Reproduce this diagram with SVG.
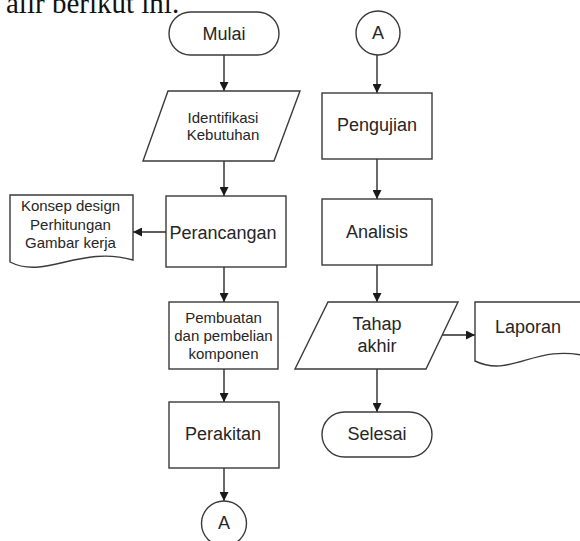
<svg xmlns="http://www.w3.org/2000/svg" width="580" height="541" viewBox="0 0 580 541">
<defs>
<marker id="arr" viewBox="0 0 10 10" refX="10" refY="5" markerWidth="9" markerHeight="9" markerUnits="userSpaceOnUse" orient="auto">
<path d="M0,0 L10,5 L0,10 Z" fill="#1a1a1a"/>
</marker>
<style>
.s{fill:#ffffff;stroke:#3a3a3a;stroke-width:1.4}
.t{font-family:"Liberation Sans",Arial,sans-serif;fill:#262626;text-anchor:middle}
.b{font-size:18px}
.m{font-size:15px}
.c{stroke:#2a2a2a;stroke-width:1.4;fill:none;marker-end:url(#arr)}
</style>
</defs>
<rect width="580" height="541" fill="#ffffff"/>
<text x="6" y="13" style="font-family:'Liberation Serif','Times New Roman',serif;font-size:29px;fill:#111">alir berikut ini.</text>
<g id="connectors">
<line class="c" x1="224" y1="55" x2="224" y2="91"/>
<line class="c" x1="224" y1="161" x2="224" y2="196"/>
<line class="c" x1="166" y1="232" x2="133" y2="232"/>
<line class="c" x1="224" y1="267" x2="224" y2="302"/>
<line class="c" x1="224" y1="369" x2="224" y2="402"/>
<line class="c" x1="224" y1="468" x2="224" y2="501"/>
<line class="c" x1="377" y1="55" x2="377" y2="93"/>
<line class="c" x1="377" y1="159" x2="377" y2="199"/>
<line class="c" x1="377" y1="265" x2="377" y2="302"/>
<line class="c" x1="442" y1="335" x2="475" y2="335"/>
<line class="c" x1="377" y1="369" x2="377" y2="412"/>
</g>
<g id="mulai">
<rect class="s" x="169" y="12" width="110" height="43" rx="21.5"/>
<text class="t b" x="224" y="40">Mulai</text>
</g>
<g id="identifikasi">
<polygon class="s" points="168,91 300,91 274,161 143,161"/>
<text class="t m" x="223" y="123">Identifikasi</text>
<text class="t m" x="223" y="140">Kebutuhan</text>
</g>
<g id="perancangan">
<rect class="s" x="166" y="196" width="120" height="71"/>
<text class="t b" x="223" y="238.5">Perancangan</text>
</g>
<g id="konsep">
<path class="s" d="M10,195 H133 V260 C80,245 45,280 10,262 Z"/>
<text class="t m" x="70.5" y="211">Konsep design</text>
<text class="t m" x="70.5" y="229.5">Perhitungan</text>
<text class="t m" x="70.5" y="248">Gambar kerja</text>
</g>
<g id="pembuatan">
<rect class="s" x="169" y="302" width="109" height="67"/>
<text class="t m" x="223.5" y="323">Pembuatan</text>
<text class="t m" x="223.5" y="341">dan pembelian</text>
<text class="t m" x="223.5" y="359">komponen</text>
</g>
<g id="perakitan">
<rect class="s" x="169" y="402" width="110" height="66"/>
<text class="t b" x="223" y="440">Perakitan</text>
</g>
<g id="a-bottom">
<circle class="s" cx="224" cy="523.5" r="22.5"/>
<text class="t b" x="224" y="529">A</text>
</g>
<g id="a-top">
<circle class="s" cx="378" cy="33" r="22"/>
<text class="t b" x="378" y="39">A</text>
</g>
<g id="pengujian">
<rect class="s" x="322" y="93" width="110" height="66"/>
<text class="t b" x="377" y="131">Pengujian</text>
</g>
<g id="analisis">
<rect class="s" x="322" y="199" width="110" height="66"/>
<text class="t b" x="377" y="238">Analisis</text>
</g>
<g id="tahap">
<polygon class="s" points="328,302 458,302 426,369 295,369"/>
<text class="t b" x="377" y="330">Tahap</text>
<text class="t b" x="377" y="352">akhir</text>
</g>
<g id="laporan">
<path class="s" d="M475,302 H590 V357 C535,342 512,379 475,361 Z"/>
<text class="t b" x="528" y="333">Laporan</text>
</g>
<g id="selesai">
<rect class="s" x="322" y="412" width="110" height="45" rx="22.5"/>
<text class="t b" x="377" y="440">Selesai</text>
</g>
</svg>
